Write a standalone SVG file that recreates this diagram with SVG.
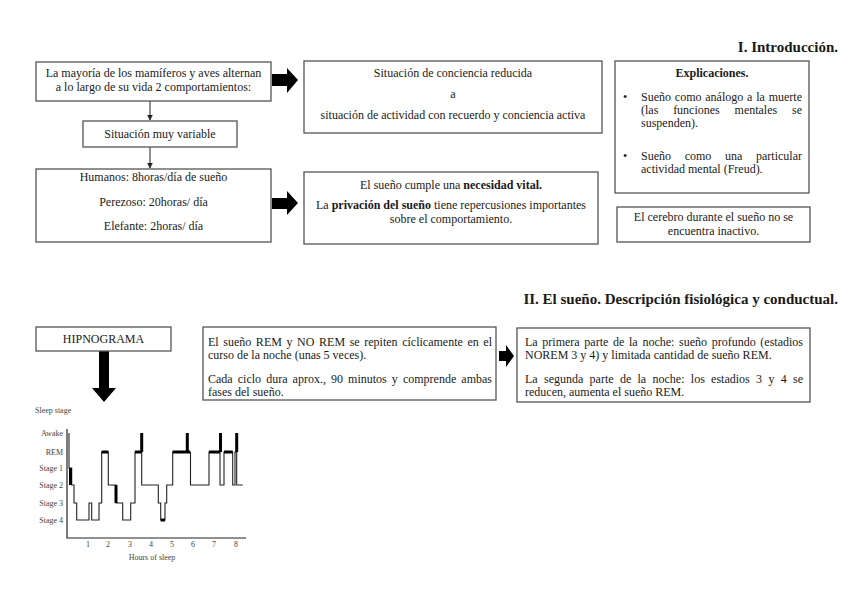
<svg xmlns="http://www.w3.org/2000/svg" width="848" height="599" viewBox="0 0 848 599">
<defs>
<style>
text{font-family:"Liberation Serif","Times New Roman",serif;fill:#1a1a1a;}
.t{font-size:12px;}
.c{text-anchor:middle;}
.h{font-size:15px;font-weight:bold;text-anchor:end;}
.box{fill:#fff;stroke:#555;stroke-width:1.3;}
.thin{fill:none;stroke:#222;stroke-width:1;}
.big{fill:#000;}
.ax{fill:none;stroke:#222;stroke-width:1.2;}
.tr{fill:none;stroke:#222;stroke-width:1.1;}
.tk{fill:none;stroke:#000;stroke-width:3;}
.g{font-size:8px;fill:#444;}
</style>
<marker id="ah" viewBox="0 0 10 10" refX="9" refY="5" markerWidth="6" markerHeight="6" orient="auto">
<path d="M0,0 L10,5 L0,10 z" fill="#222"/>
</marker>
</defs>
<rect width="848" height="599" fill="#fff"/>

<text class="h" x="838" y="52">I. Introducción.</text>
<text class="h" x="838" y="304">II. El sueño. Descripción fisiológica y conductual.</text>

<g id="connectors">
<line class="thin" x1="150" y1="101" x2="150" y2="120" marker-end="url(#ah)"/>
<line class="thin" x1="150" y1="147" x2="150" y2="168" marker-end="url(#ah)"/>
<polygon class="big" points="272,74 287,74 287,68 298,80 287,93 287,86 272,86"/>
<polygon class="big" points="272,198 287,198 287,191 298,203 287,215 287,209 272,209"/>
<polygon class="big" points="499,351 506,351 506,345 514,356 506,367 506,361 499,361"/>
<polygon class="big" points="99,351 109,351 109,388 116,388 104,402 92,388 99,388"/>
</g>

<g id="n-mamiferos">
<rect class="box" x="36" y="62" width="235" height="39"/>
<text class="t c" x="153.5" y="77">La mayoría de los mamíferos y aves alternan</text>
<text class="t c" x="153.5" y="91">a lo largo de su vida 2 comportamientos:</text>
</g>

<g id="n-variable">
<rect class="box" x="83" y="121" width="154" height="26"/>
<text class="t c" x="160" y="138">Situación muy variable</text>
</g>

<g id="n-humanos">
<rect class="box" x="36" y="169" width="235" height="73"/>
<text class="t c" x="153.5" y="181">Humanos: 8horas/día de sueño</text>
<text class="t c" x="153.5" y="206">Perezoso: 20horas/ día</text>
<text class="t c" x="153.5" y="230">Elefante: 2horas/ día</text>
</g>

<g id="n-conciencia">
<rect class="box" x="304" y="61" width="298" height="72"/>
<text class="t c" x="453" y="77">Situación de conciencia reducida</text>
<text class="t c" x="453" y="98">a</text>
<text class="t c" x="453" y="119">situación de actividad con recuerdo y conciencia activa</text>
</g>

<g id="n-necesidad">
<rect class="box" x="304" y="172" width="294" height="72"/>
<text class="t c" x="451" y="189">El sueño cumple una <tspan font-weight="bold">necesidad vital.</tspan></text>
<text class="t c" x="451" y="209">La <tspan font-weight="bold">privación del sueño</tspan> tiene repercusiones importantes</text>
<text class="t c" x="451" y="223">sobre el comportamiento.</text>
</g>

<g id="n-explicaciones">
<rect class="box" x="615" y="61" width="194" height="132"/>
<text class="t c" x="712" y="77" font-weight="bold">Explicaciones.</text>
<text class="t" x="623" y="101">•</text>
<text class="t" x="641" y="101" word-spacing="0.8" textLength="161" lengthAdjust="spacing">Sueño como análogo a la muerte</text>
<text class="t" x="641" y="114" word-spacing="11.8" textLength="161" lengthAdjust="spacing">(las funciones mentales se</text>
<text class="t" x="641" y="127">suspenden).</text>
<text class="t" x="623" y="160">•</text>
<text class="t" x="641" y="160" word-spacing="10.7" textLength="161" lengthAdjust="spacing">Sueño como una particular</text>
<text class="t" x="641" y="173">actividad mental (Freud).</text>
</g>

<g id="n-cerebro">
<rect class="box" x="617" y="207" width="193" height="35"/>
<text class="t c" x="713.5" y="221">El cerebro durante el sueño no se</text>
<text class="t c" x="713.5" y="235">encuentra inactivo.</text>
</g>

<g id="n-hipnograma">
<rect class="box" x="36" y="327" width="135" height="24"/>
<text class="t c" x="103.5" y="343">HIPNOGRAMA</text>
</g>

<g id="n-rem">
<rect class="box" x="203" y="327" width="293" height="73"/>
<text class="t" x="208" y="346" word-spacing="1.6" textLength="284" lengthAdjust="spacing">El sueño REM y NO REM se repiten cíclicamente en el</text>
<text class="t" x="208" y="359">curso de la noche (unas 5 veces).</text>
<text class="t" x="208" y="383" word-spacing="2.1" textLength="284" lengthAdjust="spacing">Cada ciclo dura aprox., 90 minutos y comprende ambas</text>
<text class="t" x="208" y="396">fases del sueño.</text>
</g>

<g id="n-noche">
<rect class="box" x="517" y="328" width="293" height="74"/>
<text class="t" x="525" y="346" word-spacing="1.7" textLength="278" lengthAdjust="spacing">La primera parte de la noche: sueño profundo (estadios</text>
<text class="t" x="525" y="359">NOREM 3 y 4) y limitada cantidad de sueño REM.</text>
<text class="t" x="525" y="383" word-spacing="3.3" textLength="278" lengthAdjust="spacing">La segunda parte de la noche: los estadios 3 y 4 se</text>
<text class="t" x="525" y="396">reducen, aumenta el sueño REM.</text>
</g>

<g id="hypnogram">
<text class="g" x="35" y="413">Sleep stage</text>
<text class="g" x="63" y="436" text-anchor="end">Awake</text>
<text class="g" x="63" y="455" text-anchor="end">REM</text>
<text class="g" x="63" y="471" text-anchor="end">Stage 1</text>
<text class="g" x="63" y="488" text-anchor="end">Stage 2</text>
<text class="g" x="63" y="506" text-anchor="end">Stage 3</text>
<text class="g" x="63" y="523" text-anchor="end">Stage 4</text>
<path class="ax" d="M67,429 V538 H246"/>
<text class="g c" x="88" y="547">1</text>
<text class="g c" x="108" y="547">2</text>
<text class="g c" x="130" y="547">3</text>
<text class="g c" x="151" y="547">4</text>
<text class="g c" x="172" y="547">5</text>
<text class="g c" x="193" y="547">6</text>
<text class="g c" x="214" y="547">7</text>
<text class="g c" x="236" y="547">8</text>
<text class="g c" x="152" y="560" font-size="8.5">Hours of sleep</text>
<path class="tr" d="M69,433 V468 H71.7 V485 H74 V503 H76.7 V520 H89 V503 H91.7 V520 H99 V503 H101.7 V452 H108.3 V485 H116 V503 H122.7 V520 H130.7 V503 H135 V452 H141.7 V433 V485 H158.3 V503 H160.7 V520 H165 V503 H166.7 V485 H172.7 V452 H187.3 V433 V452 H190.5 V485 H209 V452 H220 V433 V485 H224 V452 H232.7 V485 H235 V452 H236.7 V433 V485 H242.7"/>
<path class="tk" d="M101.7,452 H108.3 M135,452 H141.7 M141.7,452 V433 M172.7,452 H190 M187.3,452 V433 M209,452 H220 M220.5,452 V433 M224,452 H232.7 M236.7,452 V433 M70.5,468 V485 M116,485 V503 M160.7,520 H165"/>
</g>
</svg>
